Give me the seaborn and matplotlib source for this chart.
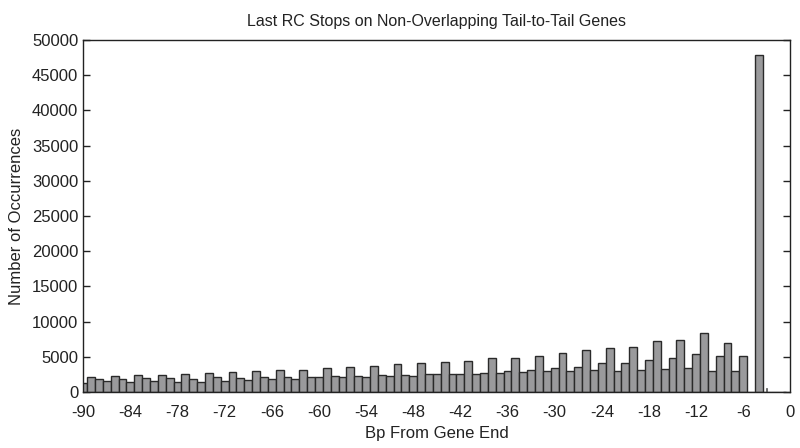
# Last RC stops per bp from gene end, histogram style bars

import matplotlib
matplotlib.use('Agg')
import matplotlib.pyplot as plt
import seaborn as sns
import pandas as pd

# bp positions -90 .. -1
positions = list(range(-90, 0))
counts = [
    1270, 2200, 1800, 1500, 2260, 1900, 1400, 2400, 1930, 1500,   # -90 .. -81
    2400, 2000, 1460, 2550, 1900, 1460, 2740, 2120, 1560, 2780,   # -80 .. -71
    2030, 1750, 2920, 2080, 1800, 3070, 2080, 1890, 3160, 2170,   # -70 .. -61
    2080, 3350, 2310, 2080, 3490, 2310, 2170, 3730, 2400, 2310,   # -60 .. -51
    3920, 2360, 2310, 4060, 2550, 2550, 4200, 2500, 2550, 4340,   # -50 .. -41
    2590, 2690, 4810, 2740, 2920, 4860, 2830, 3160, 5090, 2920,   # -40 .. -31
    3440, 5470, 2920, 3540, 5900, 3070, 4060, 6270, 2920, 4100,   # -30 .. -21
    6420, 3160, 4480, 7200, 3210, 4760, 7450, 3350, 5420, 8400,   # -20 .. -11
    3020, 5140, 6930, 3020, 5090, 0, 47800, 0, 0, 0,              # -10 .. -1
]
# tiny spike right after the big bar
spike_pos = [-3]
spike_val = [550]

x_ticks = list(range(-90, 1, 6))
y_ticks = list(range(0, 50001, 5000))

df = pd.DataFrame({'bp': positions, 'count': counts})

sns.set_style('white')
plt.rcParams['font.family'] = ['Liberation Sans', 'DejaVu Sans']

fig = plt.figure(figsize=(8, 4.48), dpi=100)
ax = fig.add_axes([0.104, 0.125, 0.884, 0.786])

sns.barplot(data=df, x='bp', y='count', native_scale=True, width=1.0,
            color='#9a9a9c', edgecolor='#2a2a2a', linewidth=1.0,
            saturation=1, ax=ax)
ax.bar(spike_pos, spike_val, width=0.12, color='#555555', edgecolor='#555555', linewidth=0.5)

ax.set_xlim(-90, 0)
ax.set_ylim(0, 50000)
ax.set_xticks(x_ticks)
ax.set_xticklabels([str(t) for t in x_ticks])
ax.set_yticks(y_ticks)

for s in ax.spines.values():
    s.set_visible(True)
    s.set_color('#222222')
    s.set_linewidth(1.0)

ax.tick_params(axis='y', which='both', direction='in', left=True, right=True,
               length=5, width=1, labelsize=12, colors='#222222')
ax.tick_params(axis='x', bottom=False, top=False, labelsize=12, pad=6, colors='#222222')

ax.set_title('Last RC Stops on Non-Overlapping Tail-to-Tail Genes', fontsize=11.5, pad=10, color='#222222')
ax.set_xlabel('Bp From Gene End', fontsize=12, labelpad=4, color='#222222')
ax.set_ylabel('Number of Occurrences', fontsize=12, labelpad=6, color='#222222')

fig.savefig('out.png', dpi=100)
